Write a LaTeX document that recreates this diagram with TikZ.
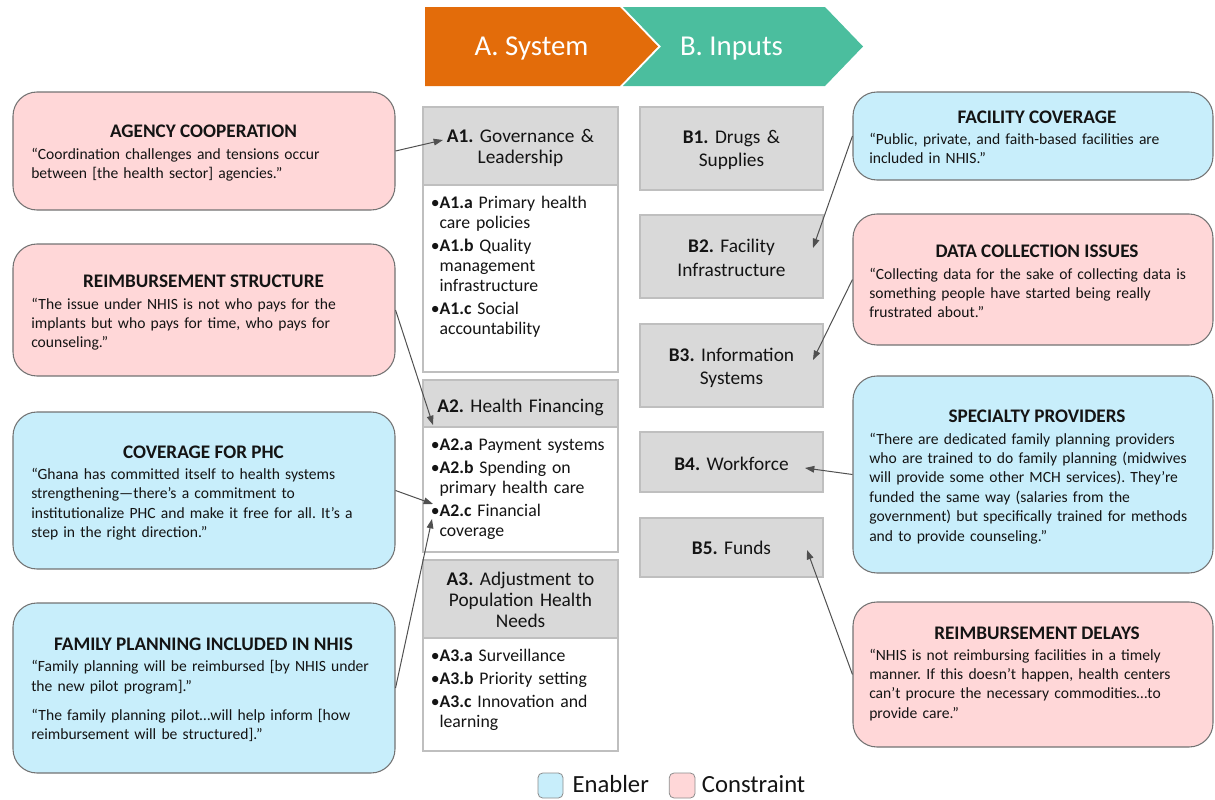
\documentclass[tikz,border=0pt]{standalone}
\usepackage{fontspec}
\setmainfont{Carlito}
\usetikzlibrary{fit,arrows.meta}
\frenchspacing
\definecolor{orangeA}{RGB}{227,108,10}
\definecolor{tealB}{RGB}{75,190,158}
\definecolor{pinkC}{RGB}{255,215,216}
\definecolor{blueC}{RGB}{200,238,251}
\definecolor{boxgray}{RGB}{217,217,217}
\definecolor{boxborder}{RGB}{191,191,191}
\definecolor{txt}{RGB}{20,20,20}
\definecolor{arrowc}{RGB}{80,80,80}
\newcommand\hg{\phantom{•}}
\tikzset{
 callout/.style={draw=black!55, line width=0.8pt, rounded corners=18pt, inner sep=0pt},
 enabler/.style={callout, fill=blueC},
 constraint/.style={callout, fill=pinkC},
 hdr/.style={draw=boxborder, fill=boxgray, line width=2pt, inner sep=0pt},
 lst/.style={draw=boxborder, fill=white, line width=2pt, inner sep=0pt},
 ctitle/.style={anchor=base, inner sep=0pt, text=txt, font=\fontsize{14.4}{16}\selectfont\bfseries},
 cbody/.style={anchor=base west, inner sep=0pt, text=txt, text width=280pt, align=left, font=\fontsize{11.7}{14.6}\selectfont},
 htext/.style={anchor=base, inner sep=0pt, text=txt, text width=150pt, align=center, font=\fontsize{14.5}{16.1}\selectfont},
 btext/.style={anchor=base, inner sep=0pt, text=txt, text width=130pt, align=center, font=\fontsize{14.5}{17.5}\selectfont},
 ltext/.style={anchor=base west, inner sep=0pt, text=txt, text width=150pt, align=left, font=\fontsize{13.3}{15}\selectfont},
 chev/.style={anchor=base, inner sep=0pt, text=white, font=\fontsize{21.6}{24}\selectfont},
 legtext/.style={anchor=base west, inner sep=0pt, text=txt, font=\fontsize{18.5}{20}\selectfont},
 legbox/.style={draw=black!45, line width=0.6pt, rounded corners=3.5pt, inner sep=0pt},
 conn/.style={draw=arrowc, line width=0.75pt, -{Triangle[length=7pt,width=5pt]}},
}
\begin{document}
\begin{tikzpicture}[x=0.75pt,y=-0.75pt]
\useasboundingbox (0,0) rectangle (1215,800);

% chevrons
\fill[orangeA] (425,7) -- (620,7) -- (658,46.5) -- (620,86) -- (425,86) -- cycle;
\fill[tealB] (623,7) -- (825,7) -- (863,46.5) -- (825,86) -- (623,86) -- (661,46.5) -- cycle;
\node[chev] (sysT) at (531.5,55.5) {A. System};
\node[chev] (inpT) at (731.5,55.5) {B. Inputs};

% A column
\node[hdr, fit={(423,107)(618,185)}] (a1h) {};
\node[lst, fit={(423,185)(618,372)}] (a1b) {};
\node[htext] (a1hT) at (520.5,142) {\textbf{A1.} Governance \&\\Leadership};
\node[ltext] (a1bT) at (430.5,208.3) {•\textbf{A1.a} Primary health\\\hg care policies\\[2.25pt]•\textbf{A1.b} Quality\\\hg management\\\hg infrastructure\\[2.25pt]•\textbf{A1.c} Social\\\hg accountability};

\node[hdr, fit={(423,380)(618,427)}] (a2h) {};
\node[lst, fit={(423,427)(618,552)}] (a2b) {};
\node[htext] (a2hT) at (520.5,412) {\textbf{A2.} Health Financing};
\node[ltext] (a2bT) at (430.5,450) {•\textbf{A2.a} Payment systems\\[2.25pt]•\textbf{A2.b} Spending on\\\hg primary health care\\[2.25pt]•\textbf{A2.c} Financial\\\hg coverage};

\node[hdr, fit={(423,560)(618,638)}] (a3h) {};
\node[lst, fit={(423,638)(618,751)}] (a3b) {};
\node[htext] (a3hT) at (520.5,585) {\textbf{A3.} Adjustment to\\Population Health\\Needs};
\node[ltext] (a3bT) at (430.5,661) {•\textbf{A3.a} Surveillance\\[2.25pt]•\textbf{A3.b} Priority setting\\[2.25pt]•\textbf{A3.c} Innovation and\\\hg learning};

% B column
\node[hdr, fit={(640,107)(823,190)}] (b1) {};
\node[hdr, fit={(640,215)(823,298)}] (b2) {};
\node[hdr, fit={(640,324)(823,407)}] (b3) {};
\node[hdr, fit={(640,432)(823,492)}] (b4) {};
\node[hdr, fit={(640,518)(823,577)}] (b5) {};
\node[btext] (b1T) at (731.5,143) {\textbf{B1.} Drugs \&\\Supplies};
\node[btext] (b2T) at (731.5,252.7) {\textbf{B2.} Facility\\Infrastructure};
\node[btext] (b3T) at (731.5,361) {\textbf{B3.} Information\\Systems};
\node[btext] (b4T) at (731.5,470) {\textbf{B4.} Workforce};
\node[btext] (b5T) at (731.5,554) {\textbf{B5.} Funds};

% left callouts
\node[constraint, fit={(13,92)(395,210)}] (agency) {};
\node[ctitle] (agencyT) at (203.5,137.5) {AGENCY COOPERATION};
\node[cbody] (agencyB) at (31,159) {“Coordination challenges and tensions occur\\between [the health sector] agencies.”};

\node[constraint, fit={(13,244)(395,376)}] (rs) {};
\node[ctitle] (rsT) at (203.5,287.7) {REIMBURSEMENT STRUCTURE};
\node[cbody] (rsB) at (31,309) {“The issue under NHIS is not who pays for the\\implants but who pays for time, who pays for\\counseling.”};

\node[enabler, fit={(13,412)(395,569)}] (cov) {};
\node[ctitle] (covT) at (203.5,458.3) {COVERAGE FOR PHC};
\node[cbody] (covB) at (31,479.3) {“Ghana has committed itself to health systems\\strengthening—there’s a commitment to\\institutionalize PHC and make it free for all. It’s a\\step in the right direction.”};

\node[enabler, fit={(13,603)(395,773)}] (fp) {};
\node[ctitle] (fpT) at (203.5,650.7) {FAMILY PLANNING INCLUDED IN NHIS};
\node[cbody] (fpB) at (31,671.7) {“Family planning will be reimbursed [by NHIS under\\the new pilot program].”\\[7.3pt]“The family planning pilot…will help inform [how\\reimbursement will be structured].”};

% right callouts
\node[enabler, fit={(853,92)(1213,180)}] (fac) {};
\node[ctitle] (facT) at (1037,123.3) {FACILITY COVERAGE};
\node[cbody] (facB) at (869,144.3) {“Public, private, and faith-based facilities are\\included in NHIS.”};

\node[constraint, fit={(853,214)(1213,345)}] (data) {};
\node[ctitle] (dataT) at (1037,257.7) {DATA COLLECTION ISSUES};
\node[cbody] (dataB) at (869,279) {“Collecting data for the sake of collecting data is\\something people have started being really\\frustrated about.”};

\node[enabler, fit={(853,376)(1213,573)}] (spec) {};
\node[ctitle] (specT) at (1037,422.7) {SPECIALTY PROVIDERS};
\node[cbody] (specB) at (869,444) {“There are dedicated family planning providers\\who are trained to do family planning (midwives\\will provide some other MCH services). They’re\\funded the same way (salaries from the\\government) but specifically trained for methods\\and to provide counseling.”};

\node[constraint, fit={(853,602)(1213,747)}] (del) {};
\node[ctitle] (delT) at (1037,639.3) {REIMBURSEMENT DELAYS};
\node[cbody] (delB) at (869,660) {“NHIS is not reimbursing facilities in a timely\\manner. If this doesn’t happen, health centers\\can’t procure the necessary commodities…to\\provide care.”};

% arrow targets
\coordinate (ea1) at (443,140);
\coordinate (ea2) at (433,425);
\coordinate (ea3) at (433,504);
\coordinate (ea4) at (432,519);
\coordinate (eb2) at (813,248);
\coordinate (eb3) at (813,360);
\coordinate (eb4) at (805,468);
\coordinate (eb5) at (807,550);

\draw[conn] (agency.east) -- (ea1);
\draw[conn] (rs.east) -- (ea2);
\draw[conn] (cov.east) -- (ea3);
\draw[conn] (fp.east) -- (ea4);
\draw[conn] (fac.west) -- (eb2);
\draw[conn] (data.west) -- (eb3);
\draw[conn] (spec.west) -- (eb4);
\draw[conn] (del.west) -- (eb5);

% legend
\node[legbox, fill=blueC, fit={(538,773)(563,798)}] (legE) {};
\node[legtext] (legET) at (572.3,792.7) {Enabler};
\node[legbox, fill=pinkC, fit={(669.3,773)(695,798)}] (legC) {};
\node[legtext] (legCT) at (701.7,792.7) {Constraint};
\end{tikzpicture}
\end{document}
